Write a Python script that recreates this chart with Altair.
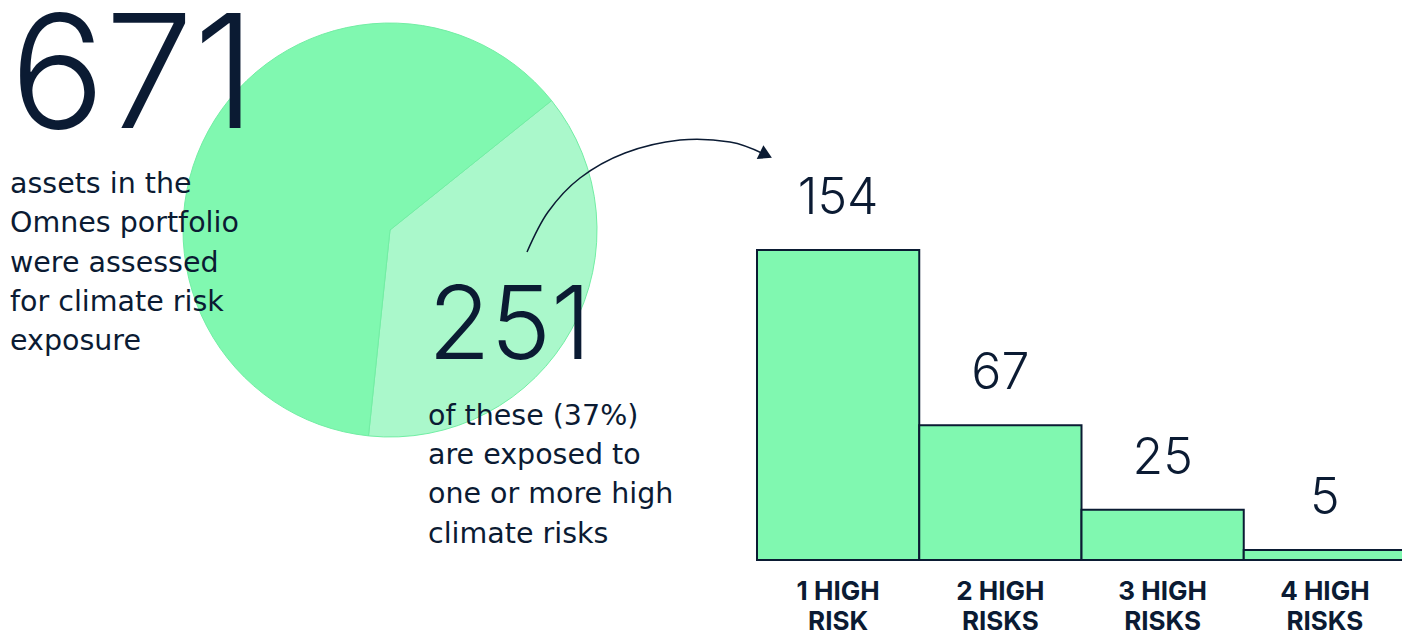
import math
import altair as alt
import pandas as pd

# ---- data ----
total_assets = 671
exposed_assets = 251
exposed_share_pct = 37
pie_parts = ["Exposed", "Not exposed"]
pie_values = [251, 420]
pie_order = [0, 1]

risk_categories = ["1 HIGH\nRISK", "2 HIGH\nRISKS", "3 HIGH\nRISKS", "4 HIGH\nRISKS"]
risk_counts = [154, 67, 25, 5]

# decorative arrow path (pixel space)
arrow_x = [527, 548, 580, 625, 680, 730, 764]
arrow_y = [252, 212, 178, 153, 140, 142, 154]

left_text = ["assets in the", "Omnes portfolio", "were assessed", "for climate risk", "exposure"]
right_text = [f"of these ({exposed_share_pct}%)", "are exposed to", "one or more high", "climate risks"]

NAVY = "#0B1B33"
GREEN = "#80F8B0"
LIGHT_GREEN = "#AAF8CB"
FONT = "Inter"
BODY_FONT = "DejaVu Sans"

W, H = 1402, 635

pie_df = pd.DataFrame({"part": pie_parts, "value": pie_values, "order": pie_order})
bar_df = pd.DataFrame({"cat": risk_categories, "count": risk_counts})
arrow_df = pd.DataFrame({"x": arrow_x, "y": arrow_y, "i": list(range(len(arrow_x)))})

start = math.radians(51.3)
pie = alt.Chart(pie_df).mark_arc(outerRadius=207, stroke="#72EEA4", strokeWidth=1).encode(
    theta=alt.Theta("value:Q", stack=True, scale=alt.Scale(range=[start, start + 2 * math.pi])),
    order=alt.Order("order:Q"),
    color=alt.Color("part:N", scale=alt.Scale(domain=pie_parts, range=[LIGHT_GREEN, GREEN]), legend=None),
    x=alt.value(390),
    y=alt.value(230),
)

xs = alt.X("cat:N", sort=risk_categories, axis=None,
           scale=alt.Scale(range=[757, 1406], paddingInner=0, paddingOuter=0))
ys = alt.Y("count:Q", axis=None, scale=alt.Scale(domain=[0, 154], range=[560, 250], nice=False, zero=True))

bars = alt.Chart(bar_df).mark_bar(fill=GREEN, stroke=NAVY, strokeWidth=2, cornerRadius=0).encode(
    x=xs, y=ys
)
bar_vals = alt.Chart(bar_df).mark_text(
    font=FONT, fontSize=50, fontWeight=300, color=NAVY, baseline="alphabetic", align="center", dy=-36
).encode(x=xs, y=ys, text="count:Q")

bar_labels = alt.Chart(bar_df).mark_text(
    font=FONT, fontSize=26, fontWeight=700, color=NAVY, baseline="alphabetic", align="center",
    lineBreak="\n", lineHeight=30
).encode(x=xs, y=alt.value(600), text="cat:N")

pix_x = alt.Scale(domain=[0, W], range=[0, W], nice=False, zero=False)
pix_y = alt.Scale(domain=[0, H], range=[0, H], nice=False, zero=False)

arrow_line = alt.Chart(arrow_df).mark_line(color=NAVY, strokeWidth=1.5, interpolate="cardinal").encode(
    x=alt.X("x:Q", axis=None, scale=pix_x),
    y=alt.Y("y:Q", axis=None, scale=pix_y),
    order="i:Q",
)
head_df = pd.DataFrame({"x": [arrow_x[-1]], "y": [arrow_y[-1]]})
arrow_head = alt.Chart(head_df).mark_point(
    shape="triangle", filled=True, color=NAVY, size=230, angle=116, opacity=1
).encode(
    x=alt.X("x:Q", axis=None, scale=pix_x),
    y=alt.Y("y:Q", axis=None, scale=pix_y),
)

big_total = alt.Chart(pd.DataFrame({"t": [str(total_assets)]})).mark_text(
    font=FONT, fontSize=158, fontWeight=300, color=NAVY, align="left", baseline="alphabetic", x=10, y=128
).encode(text="t:N")
big_exposed = alt.Chart(pd.DataFrame({"t": [str(exposed_assets)]})).mark_text(
    font=FONT, fontSize=102, fontWeight=300, color=NAVY, align="left", baseline="alphabetic", x=428, y=359
).encode(text="t:N")

left_par = alt.Chart(pd.DataFrame({"t": ["\n".join(left_text)]})).mark_text(
    font=BODY_FONT, fontSize=28.5, fontWeight=400, color=NAVY, align="left", baseline="alphabetic",
    lineBreak="\n", lineHeight=39.3, x=10, y=193
).encode(text="t:N")
right_par = alt.Chart(pd.DataFrame({"t": ["\n".join(right_text)]})).mark_text(
    font=BODY_FONT, fontSize=28.5, fontWeight=400, color=NAVY, align="left", baseline="alphabetic",
    lineBreak="\n", lineHeight=39.2, x=428, y=425
).encode(text="t:N")

chart = alt.layer(
    pie, bars, bar_vals, bar_labels, arrow_line, arrow_head, big_total, big_exposed, left_par, right_par
).resolve_scale(x="independent", y="independent").properties(
    width=W, height=H, autosize=alt.AutoSizeParams(type="none"), padding=0, background="white"
).configure_view(stroke=None)

chart.save("out.html", embed_options={"renderer": "svg", "actions": False})
